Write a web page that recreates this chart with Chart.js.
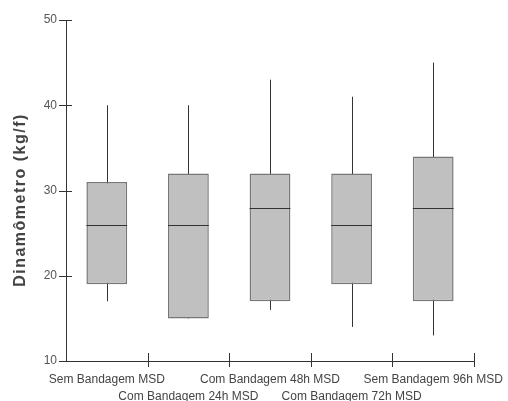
<!DOCTYPE html>
<html>
<head>
<meta charset="utf-8">
<script src="https://cdn.jsdelivr.net/npm/chart.js@4.4.1/dist/chart.umd.min.js"></script>
<style>
    html, body { margin: 0; padding: 0; background: #fff; }
    #wrap { width: 508px; height: 401px; }
</style>
</head>
<body>
<div id="wrap"><canvas id="chartBox" width="508" height="401"></canvas></div>
<script>
// Data
const grupos = ['Sem Bandagem MSD', 'Com Bandagem 24h MSD', 'Com Bandagem 48h MSD', 'Com Bandagem 72h MSD', 'Sem Bandagem 96h MSD'];
const minimos = [17, 15, 16, 14, 13];
const quartil1 = [19, 15, 17, 19, 17];
const medianas = [26, 26, 28, 26, 28];
const quartil3 = [31, 32, 32, 32, 34];
const maximos = [40, 40, 43, 41, 45];
const ticksY = [10, 20, 30, 40, 50];
const tituloY = 'Dinamômetro (kg/f)';

// Whiskers, medians, crossing tick marks and y title, drawn from the scales
const pluginCaixa = {
    id: 'caixa',
    beforeDatasetsDraw(chart) {
        const ctx = chart.ctx;
        const y = chart.scales.y;
        const meta = chart.getDatasetMeta(0);
        ctx.save();
        ctx.strokeStyle = '#333';
        ctx.lineWidth = 1;
        meta.data.forEach((barra, i) => {
            const px = Math.round(barra.x) + 0.5;
            ctx.beginPath();
            ctx.moveTo(px, y.getPixelForValue(minimos[i]));
            ctx.lineTo(px, y.getPixelForValue(maximos[i]));
            ctx.stroke();
        });
        ctx.restore();
    },
    afterDatasetsDraw(chart) {
        const ctx = chart.ctx;
        const y = chart.scales.y;
        const meta = chart.getDatasetMeta(0);
        ctx.save();
        ctx.strokeStyle = '#333';
        ctx.lineWidth = 1;
        meta.data.forEach((barra, i) => {
            const py = Math.round(y.getPixelForValue(medianas[i])) + 0.5;
            ctx.beginPath();
            ctx.moveTo(barra.x - barra.width / 2, py);
            ctx.lineTo(barra.x + barra.width / 2, py);
            ctx.stroke();
        });
        ctx.restore();
    },
    afterDraw(chart) {
        const ctx = chart.ctx;
        const x = chart.scales.x;
        const y = chart.scales.y;
        const area = chart.chartArea;
        ctx.save();
        ctx.strokeStyle = '#333';
        ctx.lineWidth = 1;
        // y ticks
        ticksY.forEach(v => {
            const py = Math.round(y.getPixelForValue(v)) + 0.5;
            ctx.beginPath();
            ctx.moveTo(area.left - 7, py);
            ctx.lineTo(area.left + 6, py);
            ctx.stroke();
        });
        // x ticks at category boundaries
        const paso = x.getPixelForValue(1) - x.getPixelForValue(0);
        grupos.forEach((g, i) => {
            const px = Math.round(x.getPixelForValue(i) + paso / 2) + 0.5;
            ctx.beginPath();
            ctx.moveTo(px, area.bottom - 8);
            ctx.lineTo(px, area.bottom + 6);
            ctx.stroke();
        });
        // y title, letter spaced
        ctx.translate(21, 200);
        ctx.rotate(-Math.PI / 2);
        ctx.letterSpacing = '1.5px';
        ctx.font = 'bold 16px "Liberation Sans", Arial';
        ctx.fillStyle = '#444';
        ctx.textAlign = 'center';
        ctx.textBaseline = 'middle';
        ctx.fillText(tituloY, 0, 0);
        ctx.restore();
    }
};

const ctx = document.getElementById('chartBox').getContext('2d');
new Chart(ctx, {
    type: 'bar',
    data: {
        labels: grupos,
        datasets: [
            {
                label: 'Caixas',
                data: grupos.map((g, i) => [quartil1[i], quartil3[i]]),
                backgroundColor: '#c0c0c0',
                borderColor: '#777',
                borderWidth: 1.5,
                borderSkipped: false,
                barPercentage: 0.5,
                categoryPercentage: 1
            }
        ]
    },
    options: {
        responsive: false,
        animation: false,
        layout: { padding: { top: 20, right: 34, left: 0, bottom: 0 } },
        plugins: {
            legend: { display: false },
            tooltip: { enabled: false }
        },
        scales: {
            x: {
                offset: true,
                grid: { display: false },
                border: { display: true, color: '#333', width: 1 },
                afterFit: (scale) => {
                    scale.height = 40;
                    scale.paddingLeft = 0;
                    scale.paddingRight = 0;
                },
                ticks: {
                    autoSkip: false,
                    maxRotation: 0,
                    minRotation: 0,
                    padding: 2,
                    color: '#444',
                    font: { family: 'Liberation Sans, Arial', size: 12, lineHeight: 1.45 },
                    callback: (v, i) => i % 2 === 0 ? grupos[i] : ['', grupos[i]]
                }
            },
            y: {
                min: 10,
                max: 50,
                grid: { display: false },
                border: { display: true, color: '#333', width: 1 },
                afterFit: (scale) => { scale.width = 66; },
                ticks: {
                    stepSize: 10,
                    padding: 1,
                    color: '#555',
                    font: { family: 'Liberation Sans, Arial', size: 12 }
                }
            }
        }
    },
    plugins: [pluginCaixa]
});
</script>
</body>
</html>
